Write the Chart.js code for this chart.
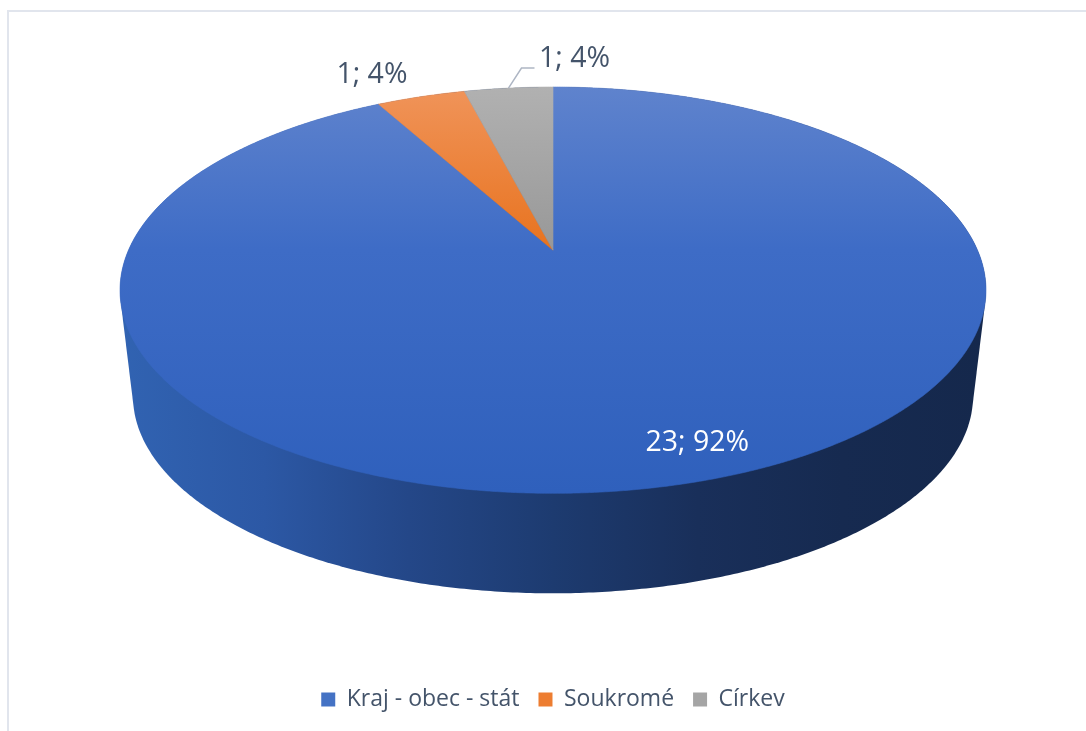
<!DOCTYPE html>
<html>
<head>
<meta charset="utf-8">
<script src="https://cdn.jsdelivr.net/npm/chart.js@4.4.1/dist/chart.umd.min.js"></script>
<style>
  html, body { margin: 0; padding: 0; background: #fff; overflow: hidden; }
  #frame { position: absolute; left: 7px; top: 10px; width: 1200px; height: 800px;
           border-left: 2px solid #E1E5ED; border-top: 2px solid #E1E5ED; }
  #wrap { position: absolute; left: 0; top: 0; width: 1086px; height: 721px; }
</style>
</head>
<body>
<div id="frame"></div>
<div id="wrap"><canvas id="myChart" width="1086" height="721"></canvas></div>
<script>
const labels = ['Kraj - obec - stát', 'Soukromé', 'Církev'];
const counts = [23, 1, 1];
const colors = ['#4472C4', '#ED7D31', '#A5A5A5'];

// shading of the top face (top, middle, bottom)
const faceShades = [
    ['#5F83CD', '#3E6CC6', '#2F60BC'],
    ['#F0945A', '#E8731F', '#E0661A'],
    ['#B1B1B1', '#989898', '#8E8E8E']
];
// side wall shading, left to right
const wallShades = ['#3163B2', '#2C58A5', '#244788', '#1D3B70', '#192F5A', '#162A50', '#15284C'];

// tilt / perspective of the disc
const view = { tilt: 0.46, persp: 0.197, depth: 100, shrink: 0.97 };

// where the value labels sit (radial fraction + nudge)
const labelSpots = [
    { f: 0.864, dx: 35, dy: 5, color: '#FFFFFF' },
    { f: 1, dx: -49, dy: -14, color: '#44546A' },
    { f: 1, dx: 66, dy: -21, color: '#44546A', leader: [[13, -20], [26, -20]] }
];


function projector(chart, arc)
{
    const A = arc.outerRadius;
    const B = A * view.tilt;
    const g = view.persp;
    const x0 = arc.x;
    const y0 = chart.chartArea.top + B / (1 + g);

    const top = function(angle, f) {
        const u = f * Math.cos(angle), v = f * Math.sin(angle);
        const d = 1 - g * v;
        return [x0 + A * u / d, y0 + B * v / d];
    };

    const rimTop = y0 - B / (1 + g);
    const rimNear = y0 + B / (1 - g);
    const s = view.shrink;
    const vy = (rimNear + view.depth - s * rimNear) / (1 - s);

    const bottom = function(angle) {
        const p = top(angle, 1);
        return [x0 + s * (p[0] - x0), vy + s * (p[1] - vy)];
    };

    return { top, bottom, x0, y0, rimTop, rimNear };
}


function hull(points)
{
    const pts = points.slice().sort((a, b) => a[0] - b[0] || a[1] - b[1]);
    const cross = (o, a, b) => (a[0] - o[0]) * (b[1] - o[1]) - (a[1] - o[1]) * (b[0] - o[0]);
    const lower = [], upper = [];
    for (const p of pts) {
        while (lower.length >= 2 && cross(lower[lower.length - 2], lower[lower.length - 1], p) <= 0) lower.pop();
        lower.push(p);
    }
    for (let i = pts.length - 1; i >= 0; i--) {
        const p = pts[i];
        while (upper.length >= 2 && cross(upper[upper.length - 2], upper[upper.length - 1], p) <= 0) upper.pop();
        upper.push(p);
    }
    upper.pop();
    lower.pop();
    return lower.concat(upper);
}


const pie3d = {
    id: 'pie3d',
    beforeDatasetsDraw(chart) {
        const ctx = chart.ctx;
        const arcs = chart.getDatasetMeta(0).data;
        const pr = projector(chart, arcs[0]);
        const total = counts.reduce((a, b) => a + b, 0);

        // side wall: hull of top rim + bottom rim
        const rim = [];
        for (let i = 0; i < 720; i++) {
            const a = i / 720 * Math.PI * 2;
            rim.push(pr.top(a, 1));
            rim.push(pr.bottom(a));
        }
        const shape = hull(rim);
        let minX = Infinity, maxX = -Infinity;
        shape.forEach(p => { minX = Math.min(minX, p[0]); maxX = Math.max(maxX, p[0]); });
        const wallGrad = ctx.createLinearGradient(minX, 0, maxX, 0);
        wallShades.forEach((c, i) => wallGrad.addColorStop(i / (wallShades.length - 1), c));

        ctx.save();
        ctx.beginPath();
        shape.forEach((p, i) => i ? ctx.lineTo(p[0], p[1]) : ctx.moveTo(p[0], p[1]));
        ctx.closePath();
        ctx.fillStyle = wallGrad;
        ctx.fill();

        // top face, one slice per arc element
        arcs.forEach((arc, i) => {
            const grad = ctx.createLinearGradient(0, pr.rimTop, 0, pr.rimNear);
            grad.addColorStop(0, faceShades[i][0]);
            grad.addColorStop(0.4, faceShades[i][1]);
            grad.addColorStop(1, faceShades[i][2]);

            const steps = Math.max(2, Math.ceil((arc.endAngle - arc.startAngle) / 0.005));
            ctx.beginPath();
            ctx.moveTo(pr.x0, pr.y0);
            for (let k = 0; k <= steps; k++) {
                const p = pr.top(arc.startAngle + (arc.endAngle - arc.startAngle) * k / steps, 1);
                ctx.lineTo(p[0], p[1]);
            }
            ctx.closePath();
            ctx.fillStyle = grad;
            ctx.fill();
            ctx.strokeStyle = grad;
            ctx.lineWidth = 0.6;
            ctx.stroke();
        });

        // value labels
        ctx.font = '28.5px "Open Sans"';
        ctx.textAlign = 'center';
        ctx.textBaseline = 'alphabetic';
        arcs.forEach((arc, i) => {
            const spot = labelSpots[i];
            const mid = (arc.startAngle + arc.endAngle) / 2;
            const p = pr.top(mid, spot.f);
            if (spot.leader) {
                ctx.beginPath();
                ctx.moveTo(p[0], p[1]);
                spot.leader.forEach(q => ctx.lineTo(p[0] + q[0], p[1] + q[1]));
                ctx.strokeStyle = '#AEB6C4';
                ctx.lineWidth = 1.5;
                ctx.stroke();
            }
            const pct = Math.round(counts[i] / total * 100);
            ctx.fillStyle = spot.color;
            ctx.fillText(counts[i] + '; ' + pct + '%', p[0] + spot.dx, p[1] + spot.dy);
        });
        ctx.restore();

        return false;
    }
};


function drawChart()
{
    const ctx = document.getElementById('myChart').getContext('2d');

    new Chart(ctx, {
        type: 'pie',
        data: {
            labels: labels,
            datasets: [{
                data: counts,
                backgroundColor: colors,
                borderWidth: 0,
                radius: 424.5
            }]
        },
        options: {
            responsive: false,
            animation: false,
            layout: { padding: { top: 87, left: 20, right: 0, bottom: 0 } },
            plugins: {
                tooltip: { enabled: false },
                legend: {
                    position: 'bottom',
                    labels: {
                        boxWidth: 14,
                        boxHeight: 14,
                        padding: 19,
                        color: '#44546A',
                        font: { family: '"Open Sans"', size: 23 }
                    }
                }
            }
        },
        plugins: [pie3d]
    });
}

drawChart();
</script>
</body>
</html>
